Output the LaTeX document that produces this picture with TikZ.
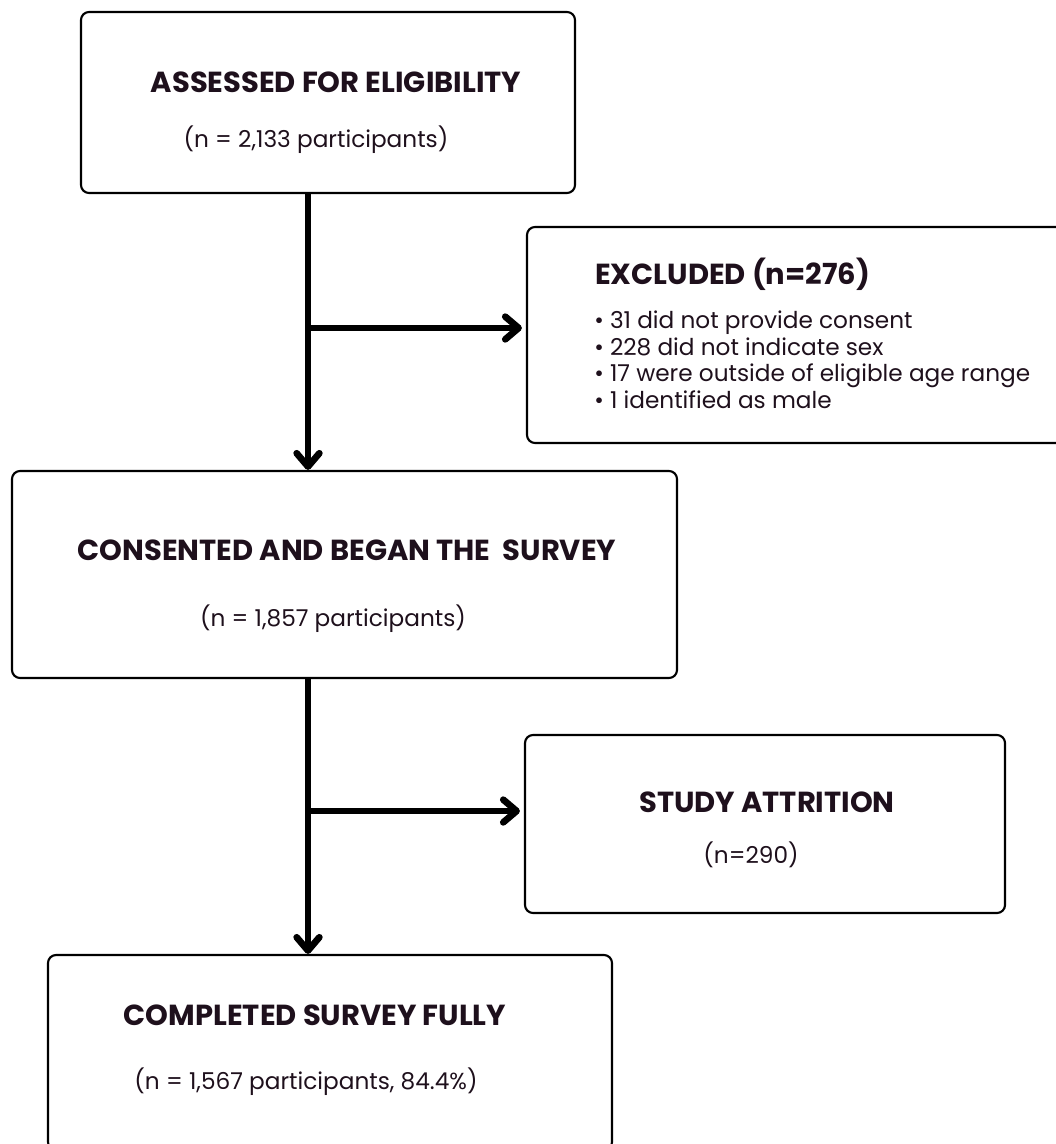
\documentclass[tikz,border=0pt]{standalone}
\usepackage{fontspec}
\setmainfont{Poppins}
\usetikzlibrary{arrows.meta}
\definecolor{inkdark}{RGB}{30,16,28}

\tikzset{
  box/.style={draw, line width=1.6pt, rounded corners=6pt},
  flow/.style={line width=5pt, -{Straight Barb[round,length=10pt,width=17pt]}},
  head/.style={inner sep=0pt, anchor=base, text=inkdark, font=\fontsize{21.75}{26}\selectfont\bfseries},
  count/.style={inner sep=0pt, anchor=base, text=inkdark, font=\fontsize{17.4}{21}\selectfont},
}

\begin{document}
\begin{tikzpicture}[x=0.75pt,y=0.75pt,yscale=-1,xscale=1]
\useasboundingbox (0,0) rectangle (1055,1144);

%Shape: Rectangle [assessed]
\node[box, minimum width=370.5pt, minimum height=135.75pt] (assess) at (328,102.5) {};
%Shape: Rectangle [excluded]
\node[box, minimum width=403.5pt, minimum height=162pt] (excl) at (796,335) {};
%Shape: Rectangle [consented]
\node[box, minimum width=498.75pt, minimum height=155.25pt] (consent) at (344.5,574.5) {};
%Shape: Rectangle [attrition]
\node[box, minimum width=360pt, minimum height=133.5pt] (attr) at (765,824) {};
%Shape: Rectangle [completed]
\node[box, minimum width=423pt, minimum height=146.25pt] (done) at (330,1052.5) {};

%Straight Lines
\coordinate (fork1) at (308,328);
\coordinate (fork2) at (308,811);
\draw[flow] (fork1 |- assess.south) -- (fork1 |- consent.north);
\draw[flow, shorten >=3pt] (fork1) -- (fork1 -| excl.west);
\draw[flow] (fork2 |- consent.south) -- (fork2 |- done.north);
\draw[flow, shorten >=3pt] (fork2) -- (fork2 -| attr.west);

% Text Node
\node[head] (assessHead) at (336,92.6) {ASSESSED FOR ELIGIBILITY};
\node[count] (assessN) at (316,148) {(n = 2,133 participants)};
% Text Node
\node[head, anchor=base west] (exclHead) at (595,285) {EXCLUDED (n=276)};
\node[count, anchor=base west] (exclA) at (594,329) {\textbullet\ 31 did not provide consent};
\node[count, anchor=base west] (exclB) at (594,355.5) {\textbullet\ 228 did not indicate sex};
\node[count, anchor=base west] (exclC) at (594,382) {\textbullet\ 17 were outside of eligible age range};
\node[count, anchor=base west] (exclD) at (594,408.5) {\textbullet\ 1 identified as male};
% Text Node
\node[head] (consentHead) at (347,560) {CONSENTED AND BEGAN THE\ \ SURVEY};
\node[count] (consentN) at (333,626) {(n = 1,857 participants)};
% Text Node
\node[head] (attrHead) at (767,812) {STUDY ATTRITION};
\node[count] (attrN) at (751,863) {(n=290)};
% Text Node
\node[head] (doneHead) at (315,1025) {COMPLETED SURVEY FULLY};
\node[count] (doneN) at (306,1089) {(n = 1,567 participants, 84.4\%)};

\end{tikzpicture}
\end{document}
